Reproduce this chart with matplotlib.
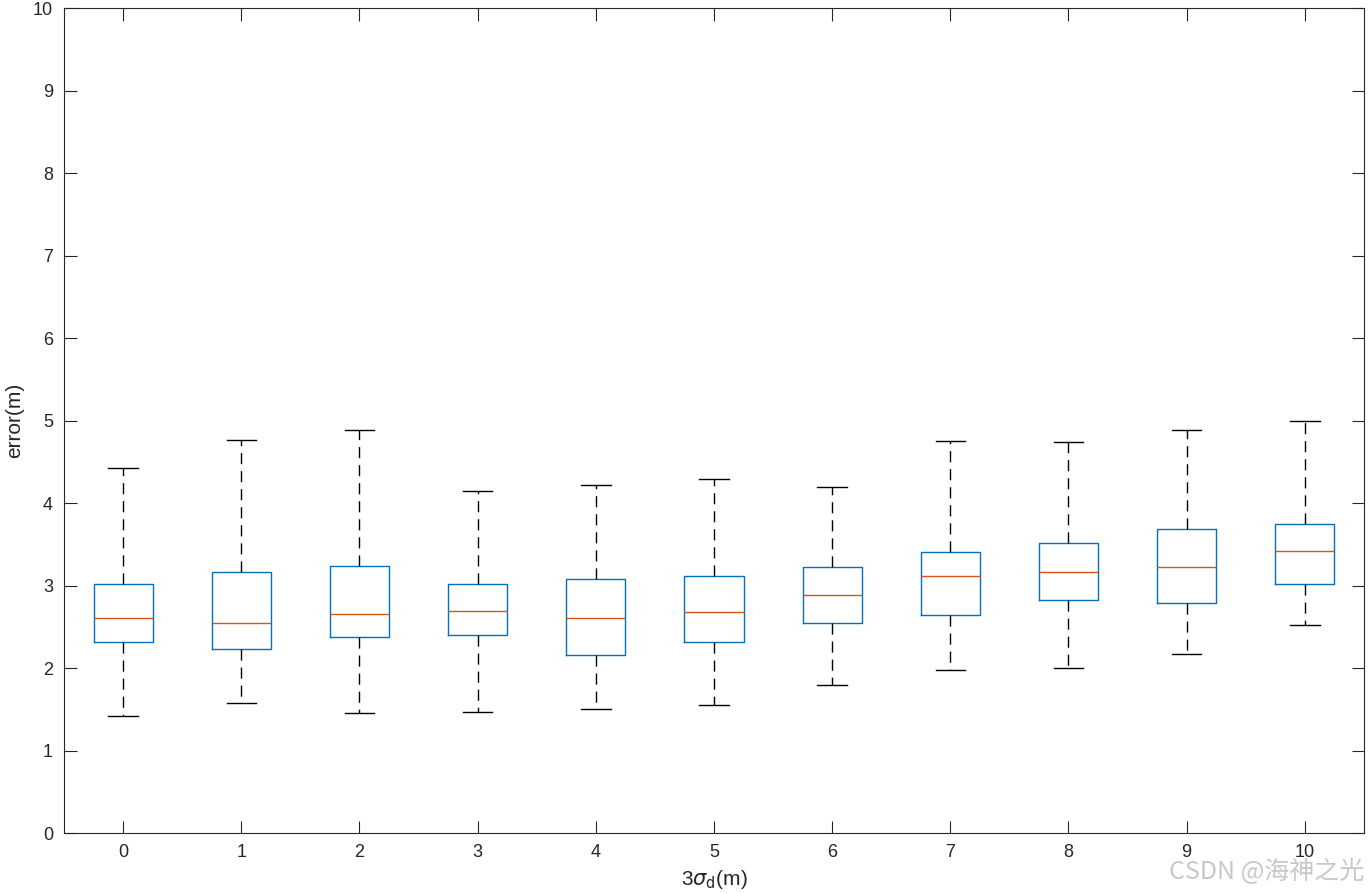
import matplotlib
matplotlib.use("Agg")
import matplotlib.pyplot as plt

# box statistics (one entry per 3*sigma_d value)
positions = [0, 1, 2, 3, 4, 5, 6, 7, 8, 9, 10]
whislo = [1.42, 1.58, 1.46, 1.47, 1.50, 1.55, 1.79, 1.98, 2.00, 2.17, 2.52]
q1 = [2.31, 2.23, 2.38, 2.40, 2.16, 2.31, 2.55, 2.64, 2.83, 2.79, 3.02]
med = [2.61, 2.54, 2.65, 2.69, 2.61, 2.68, 2.89, 3.11, 3.16, 3.22, 3.42]
q3 = [3.02, 3.17, 3.24, 3.02, 3.08, 3.12, 3.23, 3.41, 3.52, 3.69, 3.74]
whishi = [4.43, 4.76, 4.89, 4.14, 4.22, 4.29, 4.19, 4.75, 4.74, 4.89, 5.00]

plt.rcParams['font.family'] = ['Liberation Sans', 'DejaVu Sans']

stats = []
for i in range(len(positions)):
    stats.append({'whislo': whislo[i], 'q1': q1[i], 'med': med[i],
                  'q3': q3[i], 'whishi': whishi[i], 'fliers': []})

fig = plt.figure(figsize=(13.68, 8.94), dpi=100)
ax = fig.add_axes([0.0468, 0.0682, 0.9502, 0.9228])

ax.bxp(stats, positions=positions, widths=0.5, capwidths=0.25,
       showfliers=False,
       boxprops=dict(color='#0072BD', linewidth=1.0),
       medianprops=dict(color='#D95319', linewidth=1.0),
       whiskerprops=dict(color='black', linewidth=1.0, linestyle=(0, (8, 5))),
       capprops=dict(color='black', linewidth=1.0))

ax.set_xlim(-0.5, 10.5)
ax.set_ylim(0, 10)
ax.set_xticks(positions)
ax.set_xticklabels([str(p) for p in positions])
ax.set_yticks(range(0, 11))

for s in ax.spines.values():
    s.set_color('#262626')
    s.set_linewidth(0.8)
ax.tick_params(direction='in', length=9, width=0.8, colors='#262626',
               labelsize=13, top=True, right=True, pad=8)

ax.set_xlabel(r'3$\sigma_{\rm d}$(m)', fontsize=15, color='#262626', labelpad=5)
ax.set_ylabel('error(m)', fontsize=15, color='#262626', labelpad=6)

fig.text(0.997, 0.010, 'CSDN @海神之光', ha='right', va='bottom',
         fontsize=18, color='#c8c8c8',
         family=['Noto Sans CJK SC', 'DejaVu Sans'])

fig.savefig('out.png', dpi=100)
